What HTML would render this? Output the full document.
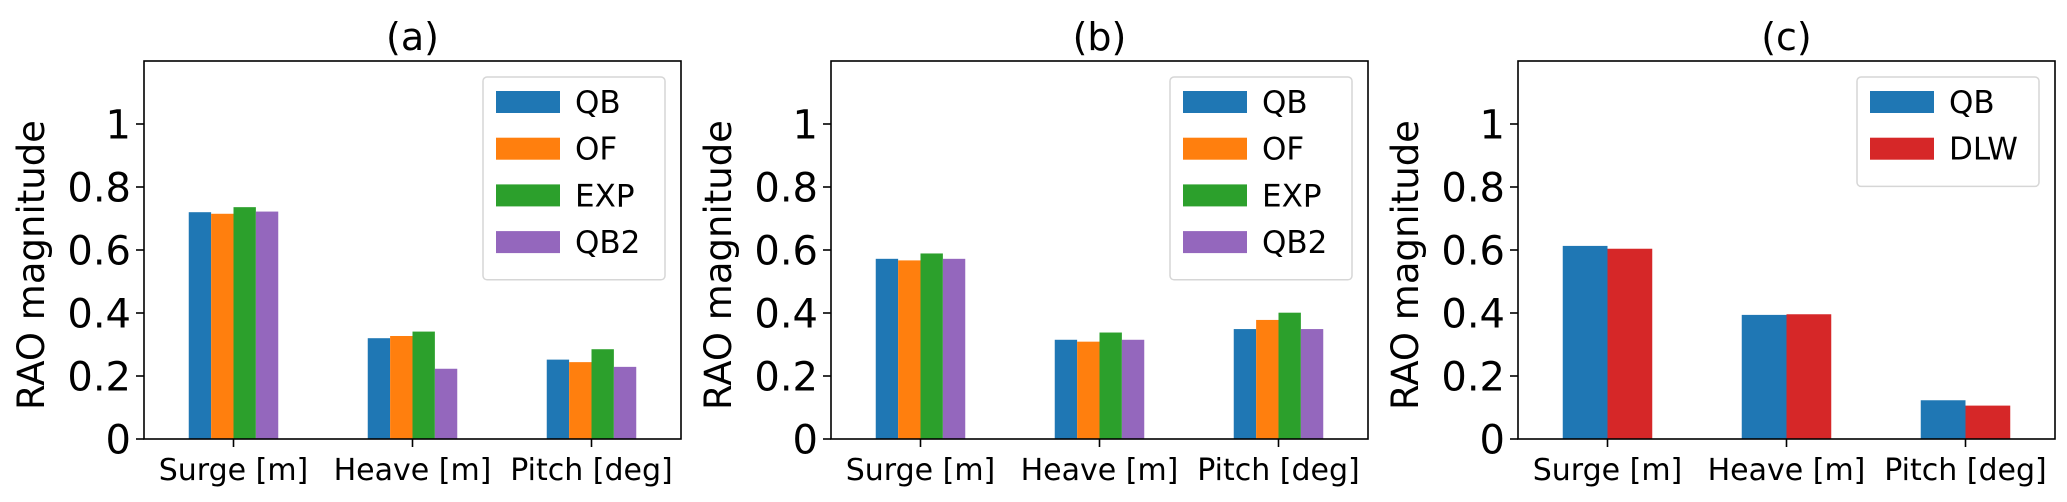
<!DOCTYPE html>
<html><head><meta charset="utf-8"><style>
html,body{margin:0;padding:0;background:#fff;}
svg{display:block;font-family:"DejaVu Sans","Liberation Sans",sans-serif;}
</style></head><body>
<svg id="chart" width="2067" height="502" viewBox="0 0 2067 502" xmlns="http://www.w3.org/2000/svg"></svg>
<script>
const categories = ["Surge [m]", "Heave [m]", "Pitch [deg]"];
const panelTitles = ["(a)", "(b)", "(c)"];
const yTicks = [0, 0.2, 0.4, 0.6, 0.8, 1];
const yTickLabels = ["0", "0.2", "0.4", "0.6", "0.8", "1"];
const seriesNamesAB = ["QB", "OF", "EXP", "QB2"];
const seriesNamesC = ["QB", "DLW"];
const aQB = [0.72, 0.32, 0.252];
const aOF = [0.715, 0.327, 0.244];
const aEXP = [0.736, 0.341, 0.285];
const aQB2 = [0.722, 0.223, 0.229];
const bQB = [0.572, 0.315, 0.349];
const bOF = [0.567, 0.309, 0.378];
const bEXP = [0.589, 0.338, 0.401];
const bQB2 = [0.572, 0.315, 0.349];
const cQB = [0.613, 0.394, 0.123];
const cDLW = [0.604, 0.396, 0.106];

const NS = "http://www.w3.org/2000/svg";
const svg = document.getElementById("chart");
const colorMap = {QB:"#1f77b4", OF:"#ff7f0e", EXP:"#2ca02c", QB2:"#9467bd", DLW:"#d62728"};
function mk(tag, attrs, parent){
  const e = document.createElementNS(NS, tag);
  for (const k in attrs) e.setAttribute(k, attrs[k]);
  (parent || svg).appendChild(e);
  return e;
}
const TOP = 61, BOT = 439, YMAX = 1.2, AXW = 537;
const panels = [
  {left:144, names:seriesNamesAB, data:[aQB,aOF,aEXP,aQB2]},
  {left:831, names:seriesNamesAB, data:[bQB,bOF,bEXP,bQB2]},
  {left:1518, names:seriesNamesC, data:[cQB,cDLW]}
];
panels.forEach((p, pi) => {
  const g = mk("g", {});
  
  
  const yScale = v => BOT - v / YMAX * (BOT - TOP);
  const xScale = v => p.left + (v + 0.5) / 3 * AXW;
  const n = p.names.length;
  const bw = 0.5 / n;
  p.data.forEach((vals, si) => {
    vals.forEach((v, ci) => {
      const x0 = xScale(ci - 0.25 + si * bw);
      const r = mk("rect", {x:x0, y:yScale(v), width:xScale(bw) - xScale(0), height:BOT - yScale(v), fill:colorMap[p.names[si]]}, g);
      
      
    });
  });
  const fr = mk("rect", {x:p.left, y:TOP, width:AXW, height:BOT - TOP, fill:"none", stroke:"#000", "stroke-width":1.6}, g);
  
  
  yTicks.forEach((t, i) => {
    const y = yScale(t);
    mk("line", {x1:p.left - 8, x2:p.left, y1:y, y2:y, stroke:"#000", "stroke-width":1.6}, g);
    const tx = mk("text", {x:p.left - 13, y:y + 14.5, "text-anchor":"end", "font-size":40, fill:"#000"}, g);
    tx.textContent = yTickLabels[i];
    
    
  });
  categories.forEach((c, ci) => {
    const x = xScale(ci);
    mk("line", {x1:x, x2:x, y1:BOT, y2:BOT + 8, stroke:"#000", "stroke-width":1.6}, g);
    const tx = mk("text", {x:x, y:480, "text-anchor":"middle", "font-size":30, fill:"#000"}, g);
    tx.textContent = c;
    
    
  });
  const yl = mk("text", {x:0, y:0, transform:"translate(" + (p.left - 100) + "," + ((TOP + BOT) / 2 + 15) + ") rotate(-90)", "text-anchor":"middle", "font-size":37, fill:"#000"}, g);
  yl.textContent = "RAO magnitude";
  
  
  const tt = mk("text", {x:p.left + AXW / 2, y:50, "text-anchor":"middle", "font-size":38, fill:"#000"}, g);
  tt.textContent = panelTitles[pi];
  
  
  const lx = p.left + AXW - 16 - 182, ly = 77;
  const lh = 16 + n * 46.7;
  const lg = mk("g", {}, g);
  
  
  mk("rect", {x:lx, y:ly, width:182, height:lh, rx:4, fill:"#fff", "fill-opacity":0.8, stroke:"#d6d6d6", "stroke-width":1.5}, lg);
  p.names.forEach((nm, si) => {
    const cy = 102 + si * 46.7;
    const e = mk("g", {}, lg);
    
    
    mk("rect", {x:lx + 13, y:cy - 11, width:64, height:22, fill:colorMap[nm]}, e);
    const t = mk("text", {x:lx + 92, y:cy + 11, "font-size":31, fill:"#000"}, e);
    t.textContent = nm;
  });
});
</script>
</body></html>
